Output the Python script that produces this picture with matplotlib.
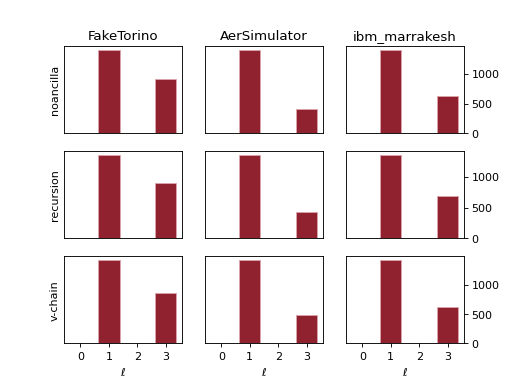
import matplotlib
matplotlib.use("Agg")
import matplotlib.pyplot as plt

# ---------------------------------------------------------------------------
# Data
# ---------------------------------------------------------------------------

backends = ["FakeTorino", "AerSimulator", "ibm_marrakesh"]
methods = ["noancilla", "recursion", "v-chain"]
levels = [0, 1, 2, 3]

noancilla = {
    "FakeTorino": [0, 1392, 0, 910],
    "AerSimulator": [0, 1392, 0, 402],
    "ibm_marrakesh": [0, 1392, 0, 622],
}
recursion = {
    "FakeTorino": [0, 1345, 0, 898],
    "AerSimulator": [0, 1345, 0, 427],
    "ibm_marrakesh": [0, 1345, 0, 692],
}
v_chain = {
    "FakeTorino": [0, 1420, 0, 867],
    "AerSimulator": [0, 1420, 0, 483],
    "ibm_marrakesh": [0, 1420, 0, 629],
}
rows = [noancilla, recursion, v_chain]

BAR_COLOR = "#902230"
EDGE_COLOR = "#dba3ab"

fig, axes = plt.subplots(3, 3, figsize=(6.4, 4.8), sharex=True, sharey="row")

for i, (method, data) in enumerate(zip(methods, rows)):
    for j, backend in enumerate(backends):
        ax = axes[i, j]
        ax.bar(levels, data[backend], width=0.75,
               color=BAR_COLOR, edgecolor=EDGE_COLOR, linewidth=0.8)
        if i == 0:
            ax.set_title(backend)
        if j == 0:
            ax.set_ylabel(method)
        if j == 2:
            ax.yaxis.tick_right()
            ax.tick_params(axis="y", right=True, labelright=True)
        else:
            ax.tick_params(axis="y", left=False, labelleft=False)
        if i == 2:
            ax.set_xlabel(r"$\ell$")
            ax.set_xticks(levels)
        else:
            ax.tick_params(axis="x", bottom=False)

fig.savefig("out.png", dpi=80.5)
